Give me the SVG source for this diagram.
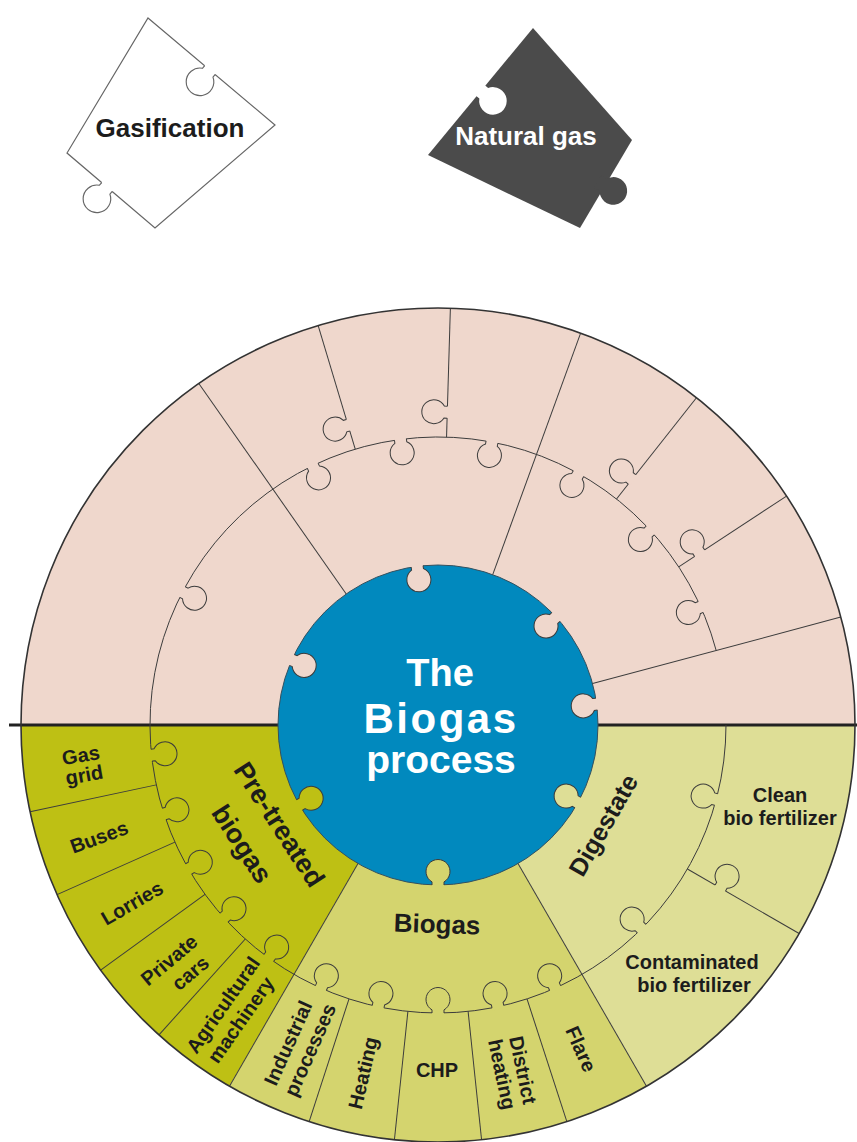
<svg xmlns="http://www.w3.org/2000/svg" width="857" height="1142" viewBox="0 0 857 1142">
<style>
 .ln{stroke:#3c3c3c;stroke-width:1;fill:none}
 .ks{stroke:#3c3c3c;stroke-width:1;fill:none}
 .pk{fill:#EFD7CC} .ol{fill:#BEC014} .bg{fill:#D4D46E} .dg{fill:#DEDE96}
 .lbl{font-family:"Liberation Sans",Arial,sans-serif;font-weight:bold;fill:#1c1c1c;text-anchor:middle}
 .s20{font-size:20px}
 .ctr{font-family:"Liberation Sans",Arial,sans-serif;font-weight:bold;fill:#ffffff;text-anchor:middle}
</style>
<defs>
 <path id="kf" d="M-6 2.5L-6 -3.1A12 12 0 1 1 6 -3.1L6 2.5Z"/>
 <path id="ksp" d="M-6 0L-6 -3.1A12 12 0 1 1 6 -3.1L6 0"/>
 <g id="kn"><use href="#kf"/><use href="#ksp" class="ks"/></g>
</defs>
<rect width="857" height="1142" fill="#ffffff"/>

<g id="gasification">
 <polygon points="148,18 275,125 155,228 67,153" fill="#ffffff" stroke="#666" stroke-width="1.2"/>
 <g transform="translate(210,70) rotate(220.1) scale(1.15)"><use href="#kf" fill="#ffffff"/><use href="#ksp" fill="none" stroke="#666" stroke-width="1"/></g>
 <g transform="translate(107,187) rotate(220.4) scale(1.15)"><use href="#kf" fill="#ffffff"/><use href="#ksp" fill="none" stroke="#666" stroke-width="1"/></g>
 <text class="lbl" x="170" y="137" font-size="26" fill="#111">Gasification</text>
</g>

<g id="natural-gas">
 <polygon points="533,28 632,140 580,228 428,155" fill="#4b4b4b"/>
 <use href="#kf" fill="#ffffff" transform="translate(481,91) rotate(129.6) scale(1.15)"/>
 <use href="#kf" fill="#4b4b4b" transform="translate(600,183) rotate(120.6) scale(1.15)"/>
 <text class="ctr" x="526" y="145" font-size="26">Natural gas</text>
</g>

<g id="wheel-fills" transform="translate(438,725)">
 <path class="pk" d="M-417 0A417 417 0 0 1 417 0Z"/>
 <path class="ol" d="M0 0L-417 0A417 417 0 0 0 -208.5 361.1Z"/>
 <path class="bg" d="M0 0L-208.5 361.1A417 417 0 0 0 208.5 361.1Z"/>
 <path class="dg" d="M0 0L208.5 361.1A417 417 0 0 0 417 0Z"/>
</g>
<line x1="9" y1="725" x2="857" y2="725" stroke="#222" stroke-width="3"/>

<g id="biogas-process">
 <circle cx="438" cy="725" r="160" fill="#0189BE" stroke="#34505e" stroke-width="1"/>
 <text class="ctr" x="440" y="686" font-size="38">The</text>
 <text class="ctr" x="441" y="733" font-size="42" letter-spacing="2.5">Biogas</text>
 <text class="ctr" x="441" y="773" font-size="39">process</text>
</g>

<g id="connectors" transform="translate(438,725)">
 <path class="ln" d="M278.2 -74.5A288 288 0 1 0 288 0"/>
 <g class="ln">
  <line x1="160" x2="417" transform="rotate(-125)"/>
  <line x1="160" x2="417" transform="rotate(-70)"/>
  <line x1="160" x2="417" transform="rotate(-15)"/>
  <line x1="160" x2="417" transform="rotate(60)"/>
  <line x1="160" x2="417" transform="rotate(120)"/>
  <line x1="288" x2="417" transform="rotate(-106.7)"/>
  <line x1="288" x2="417" transform="rotate(-88.3)"/>
  <line x1="288" x2="417" transform="rotate(-51.7)"/>
  <line x1="288" x2="417" transform="rotate(-33.3)"/>
  <line x1="288" x2="417" transform="rotate(30)"/>
  <line x1="288" x2="417" transform="rotate(72)"/>
  <line x1="288" x2="417" transform="rotate(84)"/>
  <line x1="288" x2="417" transform="rotate(96)"/>
  <line x1="288" x2="417" transform="rotate(108)"/>
  <line x1="288" x2="417" transform="rotate(132)"/>
  <line x1="288" x2="417" transform="rotate(144)"/>
  <line x1="288" x2="417" transform="rotate(156)"/>
  <line x1="288" x2="417" transform="rotate(168)"/>
 </g>
 <use href="#kn" class="pk" transform="rotate(-152.5) translate(288 0) rotate(-90)"/>
 <use href="#kn" class="pk" transform="rotate(-115.8) translate(288 0) rotate(-90)"/>
 <use href="#kn" class="pk" transform="rotate(-97.5) translate(288 0) rotate(-90)"/>
 <use href="#kn" class="pk" transform="rotate(-79.2) translate(288 0) rotate(-90)"/>
 <use href="#kn" class="pk" transform="rotate(-60.8) translate(288 0) rotate(-90)"/>
 <use href="#kn" class="pk" transform="rotate(-42.5) translate(288 0) rotate(-90)"/>
 <use href="#kn" class="pk" transform="rotate(-24.2) translate(288 0) rotate(-90)"/>
 <use href="#kn" class="ol" transform="rotate(174) translate(288 0) rotate(-90)"/>
 <use href="#kn" class="ol" transform="rotate(162) translate(288 0) rotate(-90)"/>
 <use href="#kn" class="ol" transform="rotate(150) translate(288 0) rotate(-90)"/>
 <use href="#kn" class="ol" transform="rotate(138) translate(288 0) rotate(-90)"/>
 <use href="#kn" class="ol" transform="rotate(126) translate(288 0) rotate(-90)"/>
 <use href="#kn" class="bg" transform="rotate(114) translate(288 0) rotate(-90)"/>
 <use href="#kn" class="bg" transform="rotate(102) translate(288 0) rotate(-90)"/>
 <use href="#kn" class="bg" transform="rotate(90) translate(288 0) rotate(-90)"/>
 <use href="#kn" class="bg" transform="rotate(78) translate(288 0) rotate(-90)"/>
 <use href="#kn" class="bg" transform="rotate(66) translate(288 0) rotate(-90)"/>
 <use href="#kn" class="dg" transform="rotate(45) translate(288 0) rotate(-90)"/>
 <use href="#kn" class="dg" transform="rotate(15) translate(288 0) rotate(-90)"/>
 <use href="#kn" class="pk" transform="rotate(-106.7) translate(313 0)"/>
 <use href="#kn" class="pk" transform="rotate(-88.3) translate(313 0)"/>
 <use href="#kn" class="pk" transform="rotate(-51.7) translate(313 0)"/>
 <use href="#kn" class="pk" transform="rotate(-33.3) translate(313 0)"/>
 <use href="#kn" class="dg" transform="rotate(30) translate(326 0)"/>
 <use href="#kn" class="pk" transform="rotate(-97.5) translate(160 0) rotate(-90)"/>
 <use href="#kn" class="pk" transform="rotate(-42.5) translate(160 0) rotate(-90)"/>
 <use href="#kn" class="pk" transform="rotate(-7.5) translate(160 0) rotate(-90)"/>
 <use href="#kn" class="dg" transform="rotate(29) translate(160 0) rotate(-90)"/>
 <use href="#kn" class="bg" transform="rotate(90) translate(160 0) rotate(-90)"/>
 <use href="#kn" class="ol" transform="rotate(150) translate(160 0) rotate(-90)"/>
 <use href="#kn" class="pk" transform="rotate(204) translate(160 0) rotate(-90)"/>
 <circle r="417" fill="none" stroke="#333" stroke-width="1.6"/>
</g>

<g id="pre-treated-biogas" transform="translate(280,824) rotate(57)">
 <text class="lbl" x="0" y="10" font-size="27">Pre-treated</text>
 <text class="lbl" x="-4" y="52" font-size="27">biogas</text>
</g>
<g id="gas-grid" transform="translate(82.5,765) rotate(-10)">
 <text class="lbl s20" x="0" y="-3">Gas</text>
 <text class="lbl s20" x="0" y="17">grid</text>
</g>
<g id="buses" transform="translate(99,837) rotate(-20)"><text class="lbl s20" x="0" y="7">Buses</text></g>
<g id="lorries" transform="translate(132,903) rotate(-30)"><text class="lbl s20" x="0" y="7">Lorries</text></g>
<g id="private-cars" transform="translate(169,960) rotate(-40)">
 <text class="lbl s20" x="0" y="7">Private</text>
 <text class="lbl s20" x="8" y="30.5">cars</text>
</g>
<g id="agricultural-machinery" transform="translate(223,1005) rotate(-55)">
 <text class="lbl s20" x="0" y="7">Agricultural</text>
 <text class="lbl s20" x="-2" y="30">machinery</text>
</g>
<g id="biogas"><text class="lbl" x="437" y="933" font-size="26" transform="rotate(2 437 925)">Biogas</text></g>
<g id="industrial-processes" transform="translate(288,1043) rotate(-66)">
 <text class="lbl s20" x="0" y="7">Industrial</text>
 <text class="lbl s20" x="2.6" y="30">processes</text>
</g>
<g id="heating" transform="translate(363,1073) rotate(-77)"><text class="lbl s20" x="0" y="7">Heating</text></g>
<g id="chp"><text class="lbl s20" x="437" y="1077">CHP</text></g>
<g id="district-heating" transform="translate(523,1070) rotate(78)">
 <text class="lbl s20" x="0" y="7">District</text>
 <text class="lbl s20" x="0" y="28.3">heating</text>
</g>
<g id="flare" transform="translate(581,1049) rotate(66)"><text class="lbl s20" x="0" y="7">Flare</text></g>
<g id="digestate" transform="translate(603,825) rotate(-60)"><text class="lbl" x="0" y="9" font-size="25">Digestate</text></g>
<g id="clean-bio-fertilizer">
 <text class="lbl s20" x="780" y="802">Clean</text>
 <text class="lbl s20" x="780" y="825">bio fertilizer</text>
</g>
<g id="contaminated-bio-fertilizer">
 <text class="lbl s20" x="692" y="969">Contaminated</text>
 <text class="lbl s20" x="694" y="992">bio fertilizer</text>
</g>
</svg>
